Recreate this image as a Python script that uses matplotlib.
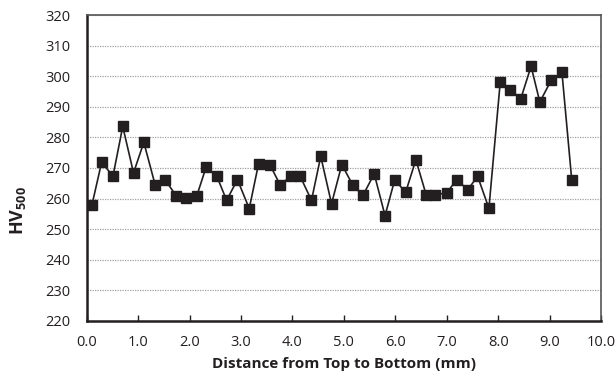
import matplotlib
matplotlib.use("Agg")
import matplotlib.pyplot as plt

distance_mm = [0.10, 0.29, 0.51, 0.70, 0.91, 1.11, 1.33, 1.52, 1.74, 1.93,
               2.14, 2.32, 2.53, 2.72, 2.93, 3.16, 3.34, 3.56, 3.76, 3.97,
               4.15, 4.37, 4.55, 4.76, 4.96, 5.17, 5.37, 5.59, 5.80, 5.99,
               6.20, 6.40, 6.60, 6.77, 7.00, 7.19, 7.41, 7.60, 7.82, 8.04,
               8.23, 8.44, 8.64, 8.81, 9.03, 9.24, 9.43]
hardness = [257.8, 271.9, 267.3, 283.6, 268.4, 278.4, 264.5, 266.2, 260.9, 260.2,
            260.9, 270.2, 267.3, 259.4, 266.2, 256.7, 271.3, 271.1, 264.5, 267.3,
            267.3, 259.4, 273.8, 258.3, 271.1, 264.5, 261.0, 268.1, 254.4, 266.2,
            262.0, 272.7, 261.2, 261.3, 261.8, 266.2, 262.9, 267.3, 256.8, 298.1,
            295.7, 292.7, 303.3, 291.6, 298.7, 301.3, 266.2]
x_ticks = [0, 1, 2, 3, 4, 5, 6, 7, 8, 9, 10]
y_ticks = [220, 230, 240, 250, 260, 270, 280, 290, 300, 310, 320]

plt.rcParams['font.family'] = ['Open Sans', 'DejaVu Sans']
plt.rcParams['mathtext.fontset'] = 'custom'
plt.rcParams['mathtext.bf'] = 'Open Sans:bold'
plt.rcParams['mathtext.rm'] = 'Open Sans'

fig = plt.figure(figsize=(6.16, 3.85), dpi=100)
ax = fig.add_axes([0.1408, 0.167, 0.8349, 0.7933])

ax.plot(distance_mm, hardness, color='#231f20', linewidth=1.2,
        marker='s', markersize=7, markerfacecolor='#231f20',
        markeredgecolor='#231f20', zorder=3)

ax.set_xlim(0, 10)
ax.set_ylim(220, 320)
ax.set_xticks(x_ticks)
ax.set_xticklabels([f"{v:.1f}" for v in x_ticks])
ax.set_yticks(y_ticks)
ax.set_yticklabels([str(v) for v in y_ticks])

ax.yaxis.grid(True, linestyle=(0, (1, 1)), color='#a0a0a0', linewidth=0.9)
ax.set_axisbelow(True)

for s in ax.spines.values():
    s.set_color('#231f20')
ax.spines['left'].set_linewidth(1.8)
ax.spines['bottom'].set_linewidth(1.8)
ax.spines['top'].set_linewidth(1.2)
ax.spines['top'].set_color('#555555')
ax.spines['right'].set_linewidth(1.2)
ax.spines['right'].set_color('#555555')

ax.tick_params(axis='x', direction='in', length=4, width=1, colors='#231f20',
               labelsize=10.5, pad=10)
ax.tick_params(axis='y', length=0, labelsize=10.5, pad=12, colors='#231f20')

ax.set_xlabel('Distance from Top to Bottom (mm)', fontsize=11,
              fontweight='bold', color='#231f20', labelpad=5)
ax.set_ylabel(r'$\mathbf{HV}_{\mathbf{500}}$', fontsize=13, color='#231f20')
ax.yaxis.set_label_coords(-0.114, 0.36)

fig.savefig('out.png', dpi=100)
